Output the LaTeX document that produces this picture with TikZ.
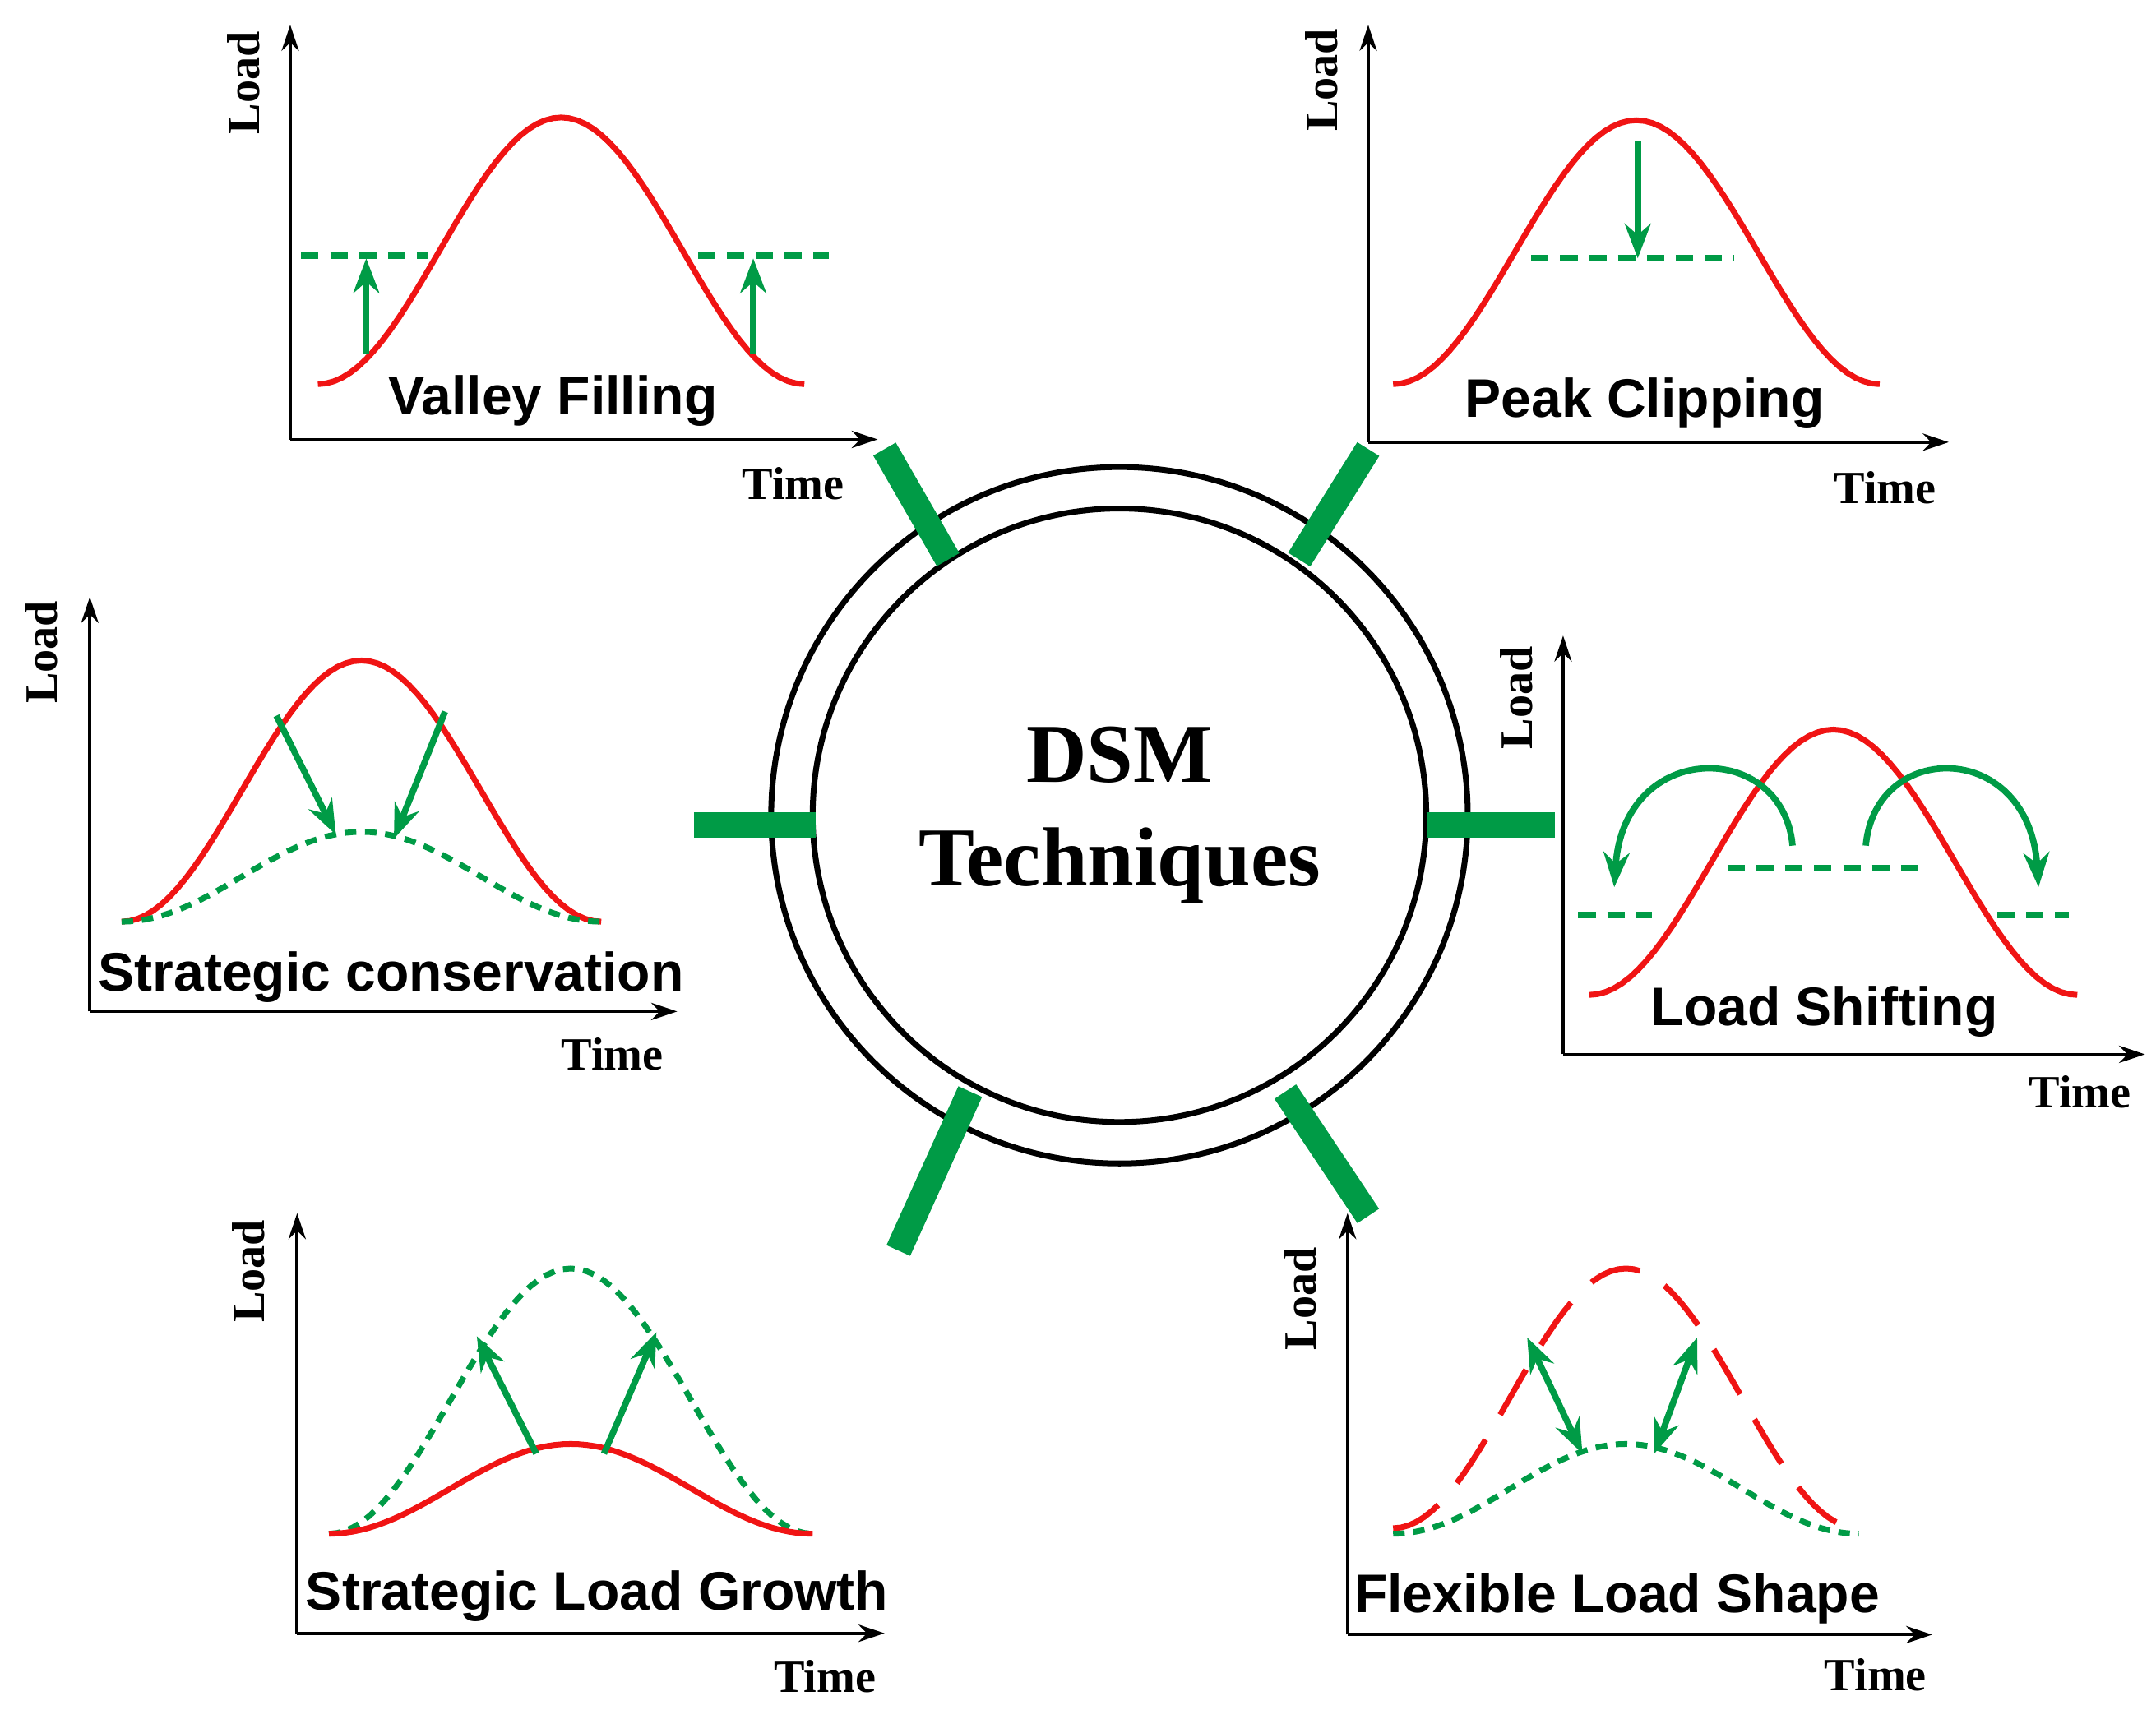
\documentclass[tikz,border=0pt]{standalone}
\usepackage{fontspec}
\setmainfont{Liberation Serif}
\newfontfamily\lsans{Liberation Sans}
\usetikzlibrary{arrows.meta}
\definecolor{gr}{RGB}{0,155,70}
\definecolor{rd}{RGB}{240,20,20}
\begin{document}
\begin{tikzpicture}[x=0.01681cm,y=-0.01681cm,
  ax/.style={line width=1.1pt,-{Stealth[length=9pt,width=6pt]}},
  red/.style={rd,line width=2pt},
  gd/.style={gr,line width=2.2pt,dash pattern=on 6pt off 4pt},
  gdot/.style={gr,line width=2pt,dash pattern=on 4pt off 3pt},
  garr/.style={gr,line width=2.2pt,-{Stealth[length=12pt,width=9pt]}},
  bar/.style={gr,line width=9pt},
  lab/.style={font=\lsans\bfseries\fontsize{18.8}{22}\selectfont},
  ld/.style={font=\bfseries\fontsize{16}{18}\selectfont,rotate=90},
  tm/.style={font=\bfseries\fontsize{16}{18}\selectfont}]
\useasboundingbox (0,0) rectangle (1560,1244);
% circle
\node[circle,draw,line width=2pt,minimum size=504*0.01681cm] (outer) at (810,590) {};
\node[circle,draw,line width=2pt,minimum size=444*0.01681cm,
  font=\bfseries\fontsize{29}{36}\selectfont,align=center] (dsm) at (810,590) {DSM\\Techniques};
% bars
\coordinate (bL) at (502,597); \coordinate (bL2) at (590,597);
\coordinate (bR) at (1032,597); \coordinate (bR2) at (1125,597);
\coordinate (bUL) at (640,325); \coordinate (bUL2) at (686,405);
\coordinate (bUR) at (990,325); \coordinate (bUR2) at (940,405);
\coordinate (bLL) at (650,905); \coordinate (bLL2) at (702,790);
\coordinate (bLR) at (990,880); \coordinate (bLR2) at (930,790);
\foreach \a/\b in {bL/bL2,bR/bR2,bUL/bUL2,bUR/bUR2,bLL/bLL2,bLR/bLR2}
  \draw[bar] (\a) -- (\b);
% helper macro for bell curves
\newcommand{\bell}[5]{\draw[#1] plot[domain=0:360,samples=61] ({#2+\x/360*(#3)},{#4-(#5)*(1-cos(\x))/2});}
% ---- Valley Filling
\coordinate (vo) at (210,318); \coordinate (vy) at (210,18); \coordinate (vx) at (635,318);
\draw[ax] (vo) -- (vy); \draw[ax] (vo) -- (vx);
\node[ld] (vL) at (176,60) {Load}; \node[tm] (vT) at (574,350) {Time};
\bell{red}{230}{352}{278}{193}
\draw[gd] (218,185) -- (310,185); \draw[gd] (505,185) -- (600,185);
\coordinate (va1) at (265,256); \coordinate (va2) at (265,187);
\coordinate (va3) at (545,256); \coordinate (va4) at (545,187);
\draw[garr] (va1) -- (va2); \draw[garr] (va3) -- (va4);
\node[lab] (vlab) at (400,290) {Valley Filling};
% ---- Peak Clipping
\coordinate (po) at (990,320); \coordinate (py) at (990,18); \coordinate (px) at (1410,320);
\draw[ax] (po) -- (py); \draw[ax] (po) -- (px);
\node[ld] (pL) at (956,58) {Load}; \node[tm] (pT) at (1364,353) {Time};
\bell{red}{1008}{352}{278}{191}
\draw[gd] (1108,187) -- (1255,187);
\coordinate (pa1) at (1185,102); \coordinate (pa2) at (1185,187);
\draw[garr] (pa1) -- (pa2);
\node[lab] (plab) at (1190,292) {Peak Clipping};
% ---- Strategic conservation
\coordinate (co) at (65,732); \coordinate (cy) at (65,432); \coordinate (cx) at (490,732);
\draw[ax] (co) -- (cy); \draw[ax] (co) -- (cx);
\node[ld] (cL) at (30,472) {Load}; \node[tm] (cT) at (443,763) {Time};
\bell{red}{88}{347}{667}{189}
\bell{gdot}{88}{347}{667}{65}
\coordinate (ca1) at (200,518); \coordinate (ca2) at (243,604);
\coordinate (ca3) at (322,515); \coordinate (ca4) at (285,607);
\draw[garr] (ca1) -- (ca2); \draw[garr] (ca3) -- (ca4);
\node[lab] (clab) at (283,707) {Strategic conservation};
% ---- Load Shifting
\coordinate (so) at (1131,763); \coordinate (sy) at (1131,460); \coordinate (sx) at (1552,763);
\draw[ax] (so) -- (sy); \draw[ax] (so) -- (sx);
\node[ld] (sL) at (1097,505) {Load}; \node[tm] (sT) at (1505,790) {Time};
\bell{red}{1150}{353}{720}{192}
\draw[gd] (1142,662) -- (1195,662); \draw[gd] (1250,628) -- (1395,628); \draw[gd] (1445,662) -- (1497,662);
\coordinate (sa1) at (1297,612); \coordinate (sa2) at (1168,642);
\coordinate (sa3) at (1350,612); \coordinate (sa4) at (1475,642);
\draw[garr] (sa1) .. controls (1290,535) and (1175,535) .. (sa2);
\draw[garr] (sa3) .. controls (1357,535) and (1468,535) .. (sa4);
\node[lab] (slab) at (1320,732) {Load Shifting};
% ---- Strategic Load Growth
\coordinate (go) at (215,1182); \coordinate (gy) at (215,878); \coordinate (gx) at (640,1182);
\draw[ax] (go) -- (gy); \draw[ax] (go) -- (gx);
\node[ld] (gL) at (180,920) {Load}; \node[tm] (gT) at (597,1213) {Time};
\bell{gdot}{238}{350}{1110}{192}
\bell{red}{238}{350}{1110}{65}
\coordinate (ga1) at (388,1052); \coordinate (ga2) at (345,967);
\coordinate (ga3) at (437,1052); \coordinate (ga4) at (475,964);
\draw[garr] (ga1) -- (ga2); \draw[garr] (ga3) -- (ga4);
\node[lab] (glab) at (432,1155) {Strategic Load Growth};
% ---- Flexible Load Shape
\coordinate (fo) at (975,1183); \coordinate (fy) at (975,878); \coordinate (fx) at (1398,1183);
\draw[ax] (fo) -- (fy); \draw[ax] (fo) -- (fx);
\node[ld] (fL) at (941,940) {Load}; \node[tm] (fT) at (1357,1212) {Time};
\bell{red,dash pattern=on 18pt off 10pt}{1008}{337}{1106}{188}
\bell{gdot}{1008}{337}{1110}{65}
\coordinate (fa1) at (1105,968); \coordinate (fa2) at (1145,1052);
\coordinate (fa3) at (1228,968); \coordinate (fa4) at (1197,1052);
\draw[garr,{Stealth[length=12pt,width=9pt]}-{Stealth[length=12pt,width=9pt]}] (fa1) -- (fa2);
\draw[garr,{Stealth[length=12pt,width=9pt]}-{Stealth[length=12pt,width=9pt]}] (fa3) -- (fa4);
\node[lab] (flab) at (1170,1157) {Flexible Load Shape};
\end{tikzpicture}
\end{document}
